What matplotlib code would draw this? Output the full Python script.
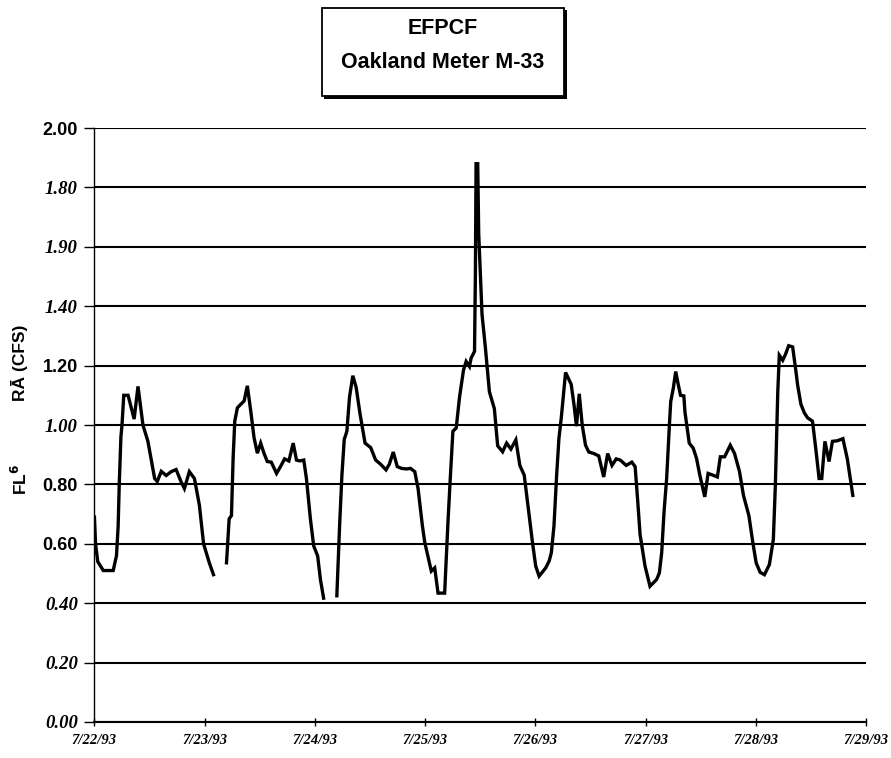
import numpy as np
import matplotlib
matplotlib.use("Agg")
import matplotlib.pyplot as plt
from matplotlib.patches import Rectangle

# time in days after 7/22/93 00:00, flow in CFS (nan = gap in record)
days = [0.00, 0.01, 0.03, 0.08, 0.17, 0.20, 0.215, 0.225, 0.24, 0.25, 0.266, 0.305, 0.36, 0.395,
        0.44, 0.485, 0.546, 0.57, 0.606, 0.651, 0.696, 0.741, 0.787, 0.816, 0.861, 0.907, 0.952,
        0.99, 1.042, 1.08,
        1.14,
        1.198, 1.222, 1.243, 1.258, 1.273, 1.297, 1.328, 1.358, 1.387, 1.418, 1.448, 1.478, 1.508,
        1.538, 1.568, 1.604, 1.652, 1.688, 1.725, 1.764, 1.803, 1.833, 1.863, 1.899, 1.923, 1.959,
        1.989, 2.025, 2.05, 2.079,
        2.14,
        2.199, 2.224, 2.245, 2.266, 2.29, 2.314, 2.344, 2.374, 2.41, 2.455, 2.506, 2.551, 2.596,
        2.645, 2.675, 2.711, 2.747, 2.786, 2.831, 2.867, 2.906, 2.936, 2.975, 2.997, 3.035, 3.056,
        3.087, 3.117, 3.177, 3.207, 3.228, 3.252, 3.282, 3.312, 3.348, 3.372, 3.402, 3.417, 3.448,
        3.456, 3.462, 3.477, 3.486, 3.516, 3.547, 3.583, 3.628, 3.658, 3.703, 3.739, 3.778, 3.823,
        3.859, 3.899, 3.944, 3.974, 4.003, 4.034, 4.094, 4.125, 4.145, 4.169, 4.193, 4.214, 4.235,
        4.274, 4.325, 4.35, 4.373, 4.398, 4.425, 4.455, 4.485, 4.53, 4.575, 4.62, 4.656, 4.695,
        4.734, 4.77, 4.824, 4.875, 4.905, 4.927, 4.95, 4.995, 5.04, 5.1, 5.125, 5.146, 5.167,
        5.191, 5.216, 5.228, 5.252, 5.273, 5.297, 5.317, 5.347, 5.357, 5.396, 5.432, 5.462, 5.492,
        5.537, 5.567, 5.612, 5.651, 5.678, 5.717, 5.768, 5.807, 5.852, 5.888, 5.937, 5.973, 6.003,
        6.039, 6.078, 6.123, 6.159, 6.177, 6.199, 6.213, 6.244, 6.268, 6.298, 6.334, 6.364, 6.379,
        6.409, 6.44, 6.47, 6.514, 6.544, 6.574, 6.598, 6.627, 6.664, 6.695, 6.74, 6.79, 6.83, 6.88]
flow = [0.69, 0.60, 0.54, 0.51, 0.51, 0.56, 0.66, 0.80, 0.96, 1.00, 1.10, 1.10, 1.02, 1.13,
        1.00, 0.945, 0.82, 0.81, 0.844, 0.83, 0.843, 0.85, 0.808, 0.786, 0.843, 0.82, 0.73,
        0.60, 0.536, 0.496,
        np.nan,
        0.536, 0.684, 0.695, 0.888, 1.013, 1.058, 1.07, 1.081, 1.132, 1.047, 0.957, 0.905, 0.939,
        0.905, 0.877, 0.875, 0.837, 0.86, 0.886, 0.879, 0.939, 0.882, 0.879, 0.882, 0.82, 0.684,
        0.593, 0.559, 0.48, 0.417,
        np.nan,
        0.425, 0.661, 0.831, 0.951, 0.979, 1.094, 1.166, 1.127, 1.036, 0.939, 0.924, 0.882, 0.868,
        0.849, 0.868, 0.909, 0.86, 0.854, 0.852, 0.854, 0.843, 0.786, 0.661, 0.604, 0.542, 0.508,
        0.519, 0.434, 0.434, 0.672, 0.82, 0.979, 0.99, 1.094, 1.185, 1.214, 1.197, 1.225, 1.248,
        1.509, 1.88, 1.88, 1.645, 1.373, 1.259, 1.112, 1.055, 0.93, 0.91, 0.939, 0.919, 0.95,
        0.864, 0.831, 0.695, 0.604, 0.525, 0.491, 0.519, 0.542, 0.57, 0.661, 0.831, 0.956, 1.024,
        1.177, 1.137, 1.07, 0.996, 1.105, 1.00, 0.932, 0.909, 0.904, 0.896, 0.825, 0.904, 0.864,
        0.886, 0.882, 0.864, 0.875, 0.86, 0.752, 0.631, 0.525, 0.457, 0.48, 0.502, 0.57, 0.706,
        0.82, 1.00, 1.079, 1.125, 1.18, 1.135, 1.10, 1.098, 1.044, 0.939, 0.922, 0.888, 0.831,
        0.758, 0.837, 0.831, 0.825, 0.893, 0.893, 0.932, 0.904, 0.843, 0.763, 0.695, 0.604, 0.536,
        0.504, 0.496, 0.53, 0.615, 0.795, 1.11, 1.235, 1.218, 1.237, 1.267, 1.263, 1.18, 1.135,
        1.07, 1.041, 1.024, 1.013, 0.92, 0.82, 0.82, 0.945, 0.877, 0.945, 0.947, 0.954, 0.886, 0.763]

date_labels = ["7/22/93", "7/23/93", "7/24/93", "7/25/93", "7/26/93", "7/27/93", "7/28/93", "7/29/93"]
y_ticks = [0.0, 0.2, 0.4, 0.6, 0.8, 1.0, 1.2, 1.4, 1.6, 1.8, 2.0]
y_labels = ["0.00", "0.20", "0.40", "0.60", "0.80", "1.00", "1.20", "1.40", "1.90", "1.80", "2.00"]
sans_labels = ["0.60", "0.80", "1.20", "2.00"]  # the rest print in bold italic serif

fig = plt.figure(figsize=(8.91, 7.58), dpi=100)
ax = fig.add_axes([0.106, 0.0475, 0.866, 0.7836])

ax.plot(days, flow, color="black", lw=2.4, solid_joinstyle="miter")

ax.set_xlim(0, 7)
ax.set_ylim(0, 2.0)
ax.set_xticks(range(8))
ax.set_xticklabels(date_labels, family="Liberation Serif", weight="bold", style="italic", fontsize=10.5)
ax.set_yticks(y_ticks)
ax.set_yticklabels(y_labels)
for lab in ax.get_yticklabels():
    if lab.get_text() in sans_labels:
        lab.set_family("Liberation Sans")
        lab.set_style("normal")
        lab.set_fontsize(13)
    else:
        lab.set_family("Liberation Serif")
        lab.set_style("italic")
        lab.set_fontsize(13.5)
    lab.set_fontweight("bold")

ax.tick_params(axis="y", direction="out", length=7, width=1, pad=5)
ax.tick_params(axis="x", direction="inout", length=6, width=1, pad=6)
ax.grid(axis="y", color="black", lw=1.5)
ax.set_axisbelow(True)
for s in ["top", "right"]:
    ax.spines[s].set_visible(False)
ax.spines["left"].set_linewidth(1.0)
ax.spines["bottom"].set_linewidth(1.5)

# y label (as printed)
fig.text(0.022, 0.522, "RĀ (CFS)", rotation=90, ha="center", va="center",
         family=["Liberation Sans", "DejaVu Sans"], fontsize=12.5, weight="bold")
fig.text(0.022, 0.367, "FL$^{\\mathbf{6}}$", rotation=90, ha="center", va="center",
         family=["Liberation Sans", "DejaVu Sans"], fontsize=12.5, weight="bold")

# boxed title
fig.patches.append(Rectangle((0.364, 0.870), 0.272, 0.117, transform=fig.transFigure,
                             facecolor="black", edgecolor="none", zorder=0))
fig.patches.append(Rectangle((0.361, 0.874), 0.272, 0.116, transform=fig.transFigure,
                             facecolor="white", edgecolor="black", lw=1.3, zorder=1))
fig.text(0.497, 0.962, "EFPCF", ha="center", va="center", family="Liberation Sans",
         fontsize=15.5, weight="bold")
fig.text(0.497, 0.918, "Oakland Meter M-33", ha="center", va="center", family="Liberation Sans",
         fontsize=15.5, weight="bold")

fig.savefig("out.png", dpi=100)
